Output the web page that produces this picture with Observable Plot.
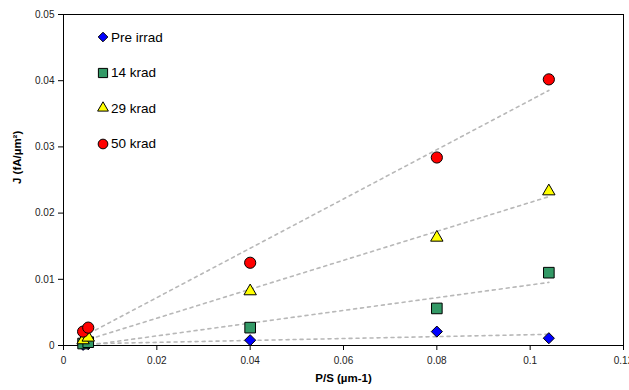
<!DOCTYPE html>
<html><head><meta charset="utf-8">
<script src="https://cdn.jsdelivr.net/npm/d3@7"></script>
<script src="https://cdn.jsdelivr.net/npm/@observablehq/plot@0.6"></script>
<style>
body{margin:0;background:#fff;font-family:"Liberation Sans",Arial,sans-serif;}
#wrap{position:relative;width:629px;height:390px;}
#legend{position:absolute;left:96px;top:28px;font-size:13.5px;color:#000;}
#legend .row{display:flex;align-items:center;height:18px;margin-bottom:17.5px;}
#legend svg{margin-right:1px;}
</style></head>
<body><div id="wrap"><div id="legend"></div></div>
<script>
const seriesNames = ["Pre irrad", "14 krad", "29 krad", "50 krad"];
const seriesSymbols = ["diamond2", "square", "triangle", "circle"];
const seriesColors = ["#0000FF", "#339966", "#FFFF00", "#FF0000"];
const seriesR = [5, 6, 4.6, 5.6];
const xValues = [0.0042, 0.0053, 0.04, 0.08, 0.104];
const preIrrad = [0.0001, 0.0002, 0.0008, 0.0021, 0.0011];
const krad14 = [0.0003, 0.0005, 0.0027, 0.0056, 0.0110];
const krad29 = [0.0008, 0.0012, 0.0082, 0.0163, 0.0233];
const krad50 = [0.0021, 0.0027, 0.0125, 0.0284, 0.0402];
const xTicks = [0, 0.02, 0.04, 0.06, 0.08, 0.1, 0.12];
const xTickLabels = ["0", "0.02", "0.04", "0.06", "0.08", "0.1", "0.12"];
const yTicks = [0, 0.01, 0.02, 0.03, 0.04, 0.05];
const yTickLabels = ["0", "0.01", "0.02", "0.03", "0.04", "0.05"];

const allSeries = [preIrrad, krad14, krad29, krad50];
const data = allSeries.flatMap((vals, si) => vals.map((v, i) => ({series: seriesNames[si], si, x: xValues[i], y: v})));

const marks = [];
seriesNames.forEach((name, si) => {
  marks.push(Plot.linearRegressionY(data.filter(d => d.si === si), {
    x: "x", y: "y", stroke: "#b8b8b8", strokeWidth: 1.6, strokeDasharray: "3,4", ci: 0
  }));
});
seriesNames.forEach((name, si) => {
  marks.push(Plot.dot(data.filter(d => d.si === si), {
    x: "x", y: "y", symbol: () => seriesSymbols[si], fill: seriesColors[si],
    stroke: "#000", strokeWidth: 1, r: seriesR[si]
  }));
});

const chart = Plot.plot({
  width: 629, height: 390,
  marginLeft: 63, marginRight: 6, marginTop: 14, marginBottom: 45,
  style: {fontFamily: '"Liberation Sans", Arial, sans-serif', fontSize: "10px", color: "#000", background: "#fff"},
  x: {domain: [0, 0.12], range: [63, 623]},
  y: {domain: [0, 0.05]},
  marks: [
    Plot.frame({stroke: "#000", strokeWidth: 1}),
    ...marks,
    Plot.axisY({ticks: yTicks, tickFormat: (d) => yTickLabels[yTicks.indexOf(d)], tickSize: 5, tickPadding: 4, label: null, fontSize: 10, fill: "#222"}),
    Plot.axisX({ticks: xTicks, tickFormat: (d) => xTickLabels[xTicks.indexOf(d)], tickSize: 5, tickPadding: 6, label: null, fontSize: 10, fill: "#222"}),
    Plot.text(["J (fA/µm²)"], {frameAnchor: "left", dx: -46, dy: 4, rotate: -90, fontWeight: "bold", fontSize: 11.5, text: d => d}),
    Plot.text(["P/S (µm-1)"], {frameAnchor: "bottom", dy: 36, fontWeight: "bold", fontSize: 11.5, text: d => d})
  ]
});
document.getElementById("wrap").prepend(chart);

const legend = document.getElementById("legend");
seriesNames.forEach((name, si) => {
  const row = document.createElement("div");
  row.className = "row";
  const sym = d3.symbol(d3["symbol" + seriesSymbols[si].charAt(0).toUpperCase() + seriesSymbols[si].slice(1)], Math.PI * seriesR[si] * seriesR[si] * 0.75)();
  row.innerHTML = `<svg width="14" height="14" viewBox="-7 -7 14 14"><path d="${sym}" fill="${seriesColors[si]}" stroke="#000" stroke-width="1"/></svg><span>${name}</span>`;
  legend.appendChild(row);
});
</script></body></html>
